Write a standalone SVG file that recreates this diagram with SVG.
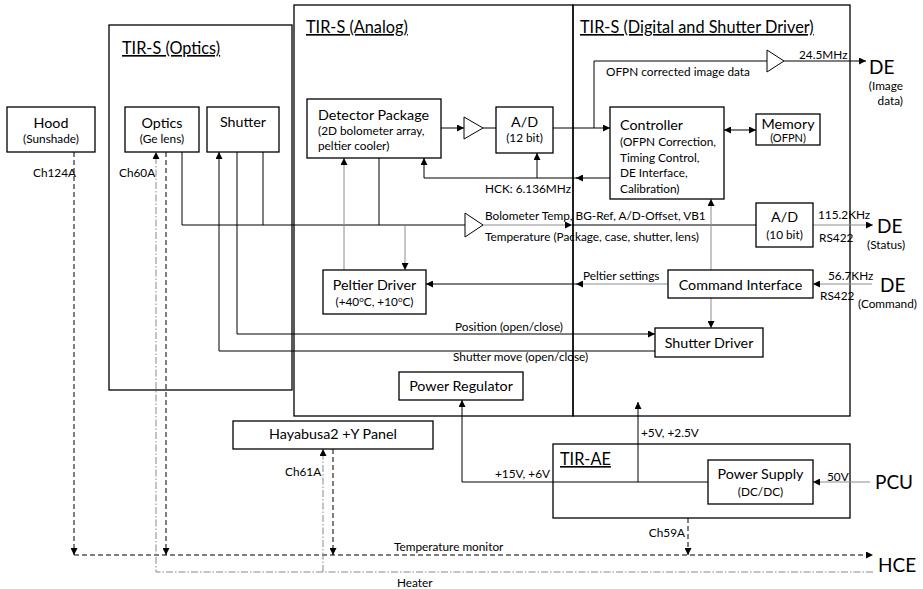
<svg xmlns="http://www.w3.org/2000/svg" width="923" height="589" viewBox="0 0 923 589">
<style>
text{font-family:Lato,"Open Sans","Liberation Sans",sans-serif;fill:#000}
.t{font-size:16.3px;text-decoration:underline}
.l{font-size:14.3px}
.s{font-size:11.8px}
.b{font-size:19px}
.m{text-anchor:middle}
.e{text-anchor:end}
.box{fill:#fff;stroke:#000;stroke-width:1.3}
.frame{fill:none;stroke:#000;stroke-width:1.3}
.amp{fill:#fff;stroke:#000;stroke-width:1}
.ln{fill:none;stroke:#000;stroke-width:1}
.gr{fill:none;stroke:#8c8c8c;stroke-width:1}
.da{fill:none;stroke:#000;stroke-width:1;stroke-dasharray:5 3}
.dd{fill:none;stroke:#888;stroke-width:1;stroke-dasharray:7 2 1.5 2}
</style>
<defs>
<marker id="a" viewBox="0 0 8 8" refX="8" refY="4" markerWidth="7" markerHeight="7" markerUnits="userSpaceOnUse" orient="auto-start-reverse"><path d="M0,0 L8,4 L0,8 z" fill="#000"/></marker>
</defs>

<g id="frames">
<rect class="frame" x="109" y="25" width="183" height="365"/>
<rect class="frame" x="294" y="5" width="279" height="411"/>
<rect class="frame" x="573" y="5" width="277" height="411"/>
<rect class="frame" x="553" y="444" width="297" height="74"/>
<text class="t" x="122" y="54">TIR-S (Optics)</text>
<text class="t" x="306" y="33">TIR-S (Analog)</text>
<text class="t" x="580" y="33">TIR-S (Digital and Shutter Driver)</text>
<text class="t" x="560" y="465">TIR-AE</text>
</g>

<g id="connectors">
<path class="ln" d="M441,128 H464" marker-end="url(#a)"/>
<path class="ln" d="M483,128 H496"/>
<path class="ln" d="M553,128 H610" marker-end="url(#a)"/>
<path class="ln" d="M594,128 V61 H767"/>
<path class="ln" d="M784,61 H866" marker-end="url(#a)"/>
<path class="ln" d="M724,130 H756" marker-start="url(#a)" marker-end="url(#a)"/>
<path class="ln" d="M610,178 H576" marker-end="url(#a)"/>
<path class="ln" d="M577,178 H424 V158" marker-end="url(#a)"/>
<path class="ln" d="M537,178 V153" marker-end="url(#a)"/>
<path class="ln" d="M182,152 V225 H465"/>
<path class="ln" d="M263,152 V225"/>
<path class="ln" d="M379,158 V225"/>
<path class="gr" d="M405,225 V270" marker-end="url(#a)"/>
<path class="gr" d="M344,270 V158" marker-end="url(#a)"/>
<path class="gr" d="M483,225 H572" marker-end="url(#a)"/>
<path class="ln" d="M572,225 H756"/>
<path class="gr" d="M813,225 H873" marker-end="url(#a)"/>
<path class="gr" d="M872,284 H813" marker-end="url(#a)"/>
<path class="gr" d="M668,284 H576" marker-end="url(#a)"/>
<path class="ln" d="M577,284 H426" marker-end="url(#a)"/>
<path class="gr" d="M711,270 V199" marker-end="url(#a)"/>
<path class="gr" d="M711,298 V328" marker-end="url(#a)"/>
<path class="ln" d="M237,152 V334 H655" marker-end="url(#a)"/>
<path class="ln" d="M655,351 H219 V152" marker-end="url(#a)"/>
<path class="ln" d="M708,482 H462 V400" marker-end="url(#a)"/>
<path class="ln" d="M638,482 V402" marker-end="url(#a)"/>
<path class="gr" d="M870,482 H813" marker-end="url(#a)"/>
<path class="da" d="M74,152 V555" marker-end="url(#a)"/>
<path class="da" d="M166,152 V555" marker-end="url(#a)"/>
<path class="da" d="M333,449 V555" marker-end="url(#a)"/>
<path class="da" d="M688,518 V555" marker-end="url(#a)"/>
<path class="da" d="M74,555 H873" marker-end="url(#a)"/>
<path class="dd" d="M873,572 H156 V152" marker-end="url(#a)"/>
<path class="dd" d="M323,572 V449" marker-end="url(#a)"/>
<polygon class="amp" points="464,117 483,128 464,139"/>
<polygon class="amp" points="465,213 483,225 465,237"/>
<polygon class="amp" points="767,50 784,61 767,72"/>
<text class="s" x="485" y="193">HCK: 6.136MHz</text>
<text class="s" x="606" y="76">OFPN corrected image data</text>
<text class="s" x="799" y="59">24.5MHz</text>
<text class="s" x="485" y="220">Bolometer Temp, BG-Ref, A/D-Offset, VB1</text>
<text class="s" x="485" y="241">Temperature (Package, case, shutter, lens)</text>
<text class="s" x="818" y="219">115.2KHz</text>
<text class="s" x="819" y="242">RS422</text>
<text class="s" x="828" y="280">56.7KHz</text>
<text class="s" x="820" y="300">RS422</text>
<text class="s" x="583" y="280">Peltier settings</text>
<text class="s" x="455" y="331">Position (open/close)</text>
<text class="s" x="453" y="361">Shutter move (open/close)</text>
<text class="s" x="495" y="478">+15V, +6V</text>
<text class="s" x="641" y="437">+5V, +2.5V</text>
<text class="s" x="827" y="481">50V</text>
<text class="s" x="33" y="177">Ch124A</text>
<text class="s" x="119" y="177">Ch60A</text>
<text class="s" x="285" y="476">Ch61A</text>
<text class="s e" x="685" y="537">Ch59A</text>
<text class="s" x="394" y="551">Temperature monitor</text>
<text class="s" x="397" y="587">Heater</text>
</g>

<g id="hood"><rect class="box" x="7" y="107" width="88" height="45"/><text class="l m" x="51" y="128">Hood</text><text class="s m" x="51" y="143">(Sunshade)</text></g>
<g id="optics"><rect class="box" x="125" y="107" width="74" height="45"/><text class="l m" x="162" y="128">Optics</text><text class="s m" x="162" y="143">(Ge lens)</text></g>
<g id="shutter"><rect class="box" x="207" y="107" width="72" height="45"/><text class="l m" x="243" y="127">Shutter</text></g>
<g id="detector"><rect class="box" x="307" y="99" width="134" height="59"/><text class="l" x="318" y="120">Detector Package</text><text class="s" x="318" y="135">(2D bolometer array,</text><text class="s" x="318" y="150">peltier cooler)</text></g>
<g id="ad12"><rect class="box" x="496" y="107" width="57" height="46"/><text class="l m" x="524.5" y="127">A/D</text><text class="s m" x="524.5" y="142">(12 bit)</text></g>
<g id="controller"><rect class="box" x="610" y="107" width="114" height="92"/><text class="l" x="620" y="130">Controller</text><text class="s" x="620" y="146">(OFPN Correction,</text><text class="s" x="620" y="161.5">Timing Control,</text><text class="s" x="620" y="177">DE Interface,</text><text class="s" x="620" y="192.5">Calibration)</text></g>
<g id="memory"><rect class="box" x="756" y="114" width="64" height="31"/><text class="l m" x="788" y="128.5">Memory</text><text class="m" font-size="11" x="788" y="142">(OFPN)</text></g>
<g id="ad10"><rect class="box" x="756" y="203" width="57" height="44"/><text class="l m" x="784.5" y="222">A/D</text><text class="s m" x="784.5" y="239">(10 bit)</text></g>
<g id="command"><rect class="box" x="668" y="270" width="145" height="28"/><text class="l m" x="740.5" y="290">Command Interface</text></g>
<g id="peltier"><rect class="box" x="323" y="270" width="103" height="44"/><text class="l m" x="374.5" y="290">Peltier Driver</text><text class="s m" x="374.5" y="306">(+40<tspan font-size="8" dy="-4">o</tspan><tspan dy="4">C, +10</tspan><tspan font-size="8" dy="-4">o</tspan><tspan dy="4">C)</tspan></text></g>
<g id="shutterdriver"><rect class="box" x="655" y="328" width="108" height="29"/><text class="l m" x="709" y="348">Shutter Driver</text></g>
<g id="regulator"><rect class="box" x="399" y="372" width="124" height="28"/><text class="l m" x="461" y="391">Power Regulator</text></g>
<g id="panel"><rect class="box" x="233" y="421" width="200" height="28"/><text class="l m" x="333" y="439">Hayabusa2 +Y Panel</text></g>
<g id="supply"><rect class="box" x="708" y="460" width="105" height="44"/><text class="l m" x="760.5" y="479">Power Supply</text><text class="s m" x="760.5" y="496">(DC/DC)</text></g>
<g id="de-image"><text class="b" x="869" y="74">DE</text><text class="s e" x="903" y="90">(Image</text><text class="s e" x="903" y="105">data)</text></g>
<g id="de-status"><text class="b" x="877" y="233">DE</text><text class="s" x="867" y="249">(Status)</text></g>
<g id="de-command"><text class="b" x="880" y="292">DE</text><text class="s" x="858" y="308">(Command)</text></g>
<g id="pcu"><text class="b" x="875" y="489">PCU</text></g>
<g id="hce"><text class="b" x="878" y="572">HCE</text></g>
</svg>
